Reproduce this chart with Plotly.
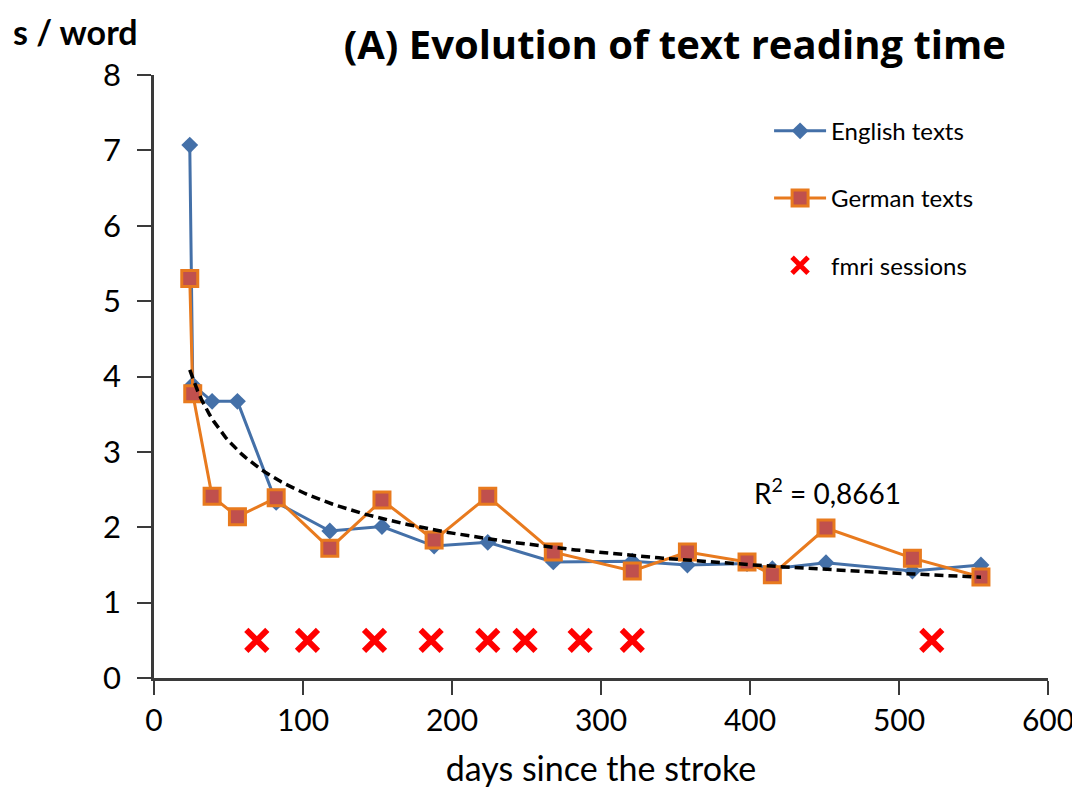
import numpy as np
import plotly.graph_objects as go

days = [24, 26, 39, 56, 82, 118, 153, 188, 224, 268, 321, 358, 398, 415, 451, 509, 555]
english = [7.07, 3.89, 3.67, 3.67, 2.33, 1.95, 2.01, 1.75, 1.80, 1.54, 1.55, 1.50, 1.52, 1.45, 1.53, 1.42, 1.50]
german = [5.30, 3.77, 2.41, 2.14, 2.39, 1.72, 2.36, 1.83, 2.41, 1.67, 1.42, 1.67, 1.54, 1.37, 1.99, 1.59, 1.34]
fmri_days = [69, 103, 148, 186, 224, 249, 286, 321, 522]
fmri_level = [0.5] * len(fmri_days)
r2_text = "R<sup>2</sup> = 0,8661"

# power trendline (as in the spreadsheet), fitted on both series
xs = np.array(days + days, dtype=float)
ys = np.array(english + german, dtype=float)
b, ln_a = np.polyfit(np.log(xs), np.log(ys), 1)
trend_x = np.linspace(min(days), max(days), 200)
trend_y = np.exp(ln_a) * trend_x ** b

FONT = "Lato"
BLUE = "#4470A8"
ORANGE = "#E87A1E"
FILL = "#C0504D"
AX = "#3a3a3a"

fig = go.Figure()
fig.add_trace(go.Scatter(
    x=days, y=english, mode="lines+markers", name="English texts",
    line=dict(color=BLUE, width=3),
    marker=dict(symbol="diamond", size=13, color=BLUE),
    legendgroup="a",
))
fig.add_trace(go.Scatter(
    x=days, y=german, mode="lines+markers", name="German texts",
    line=dict(color=ORANGE, width=3),
    marker=dict(symbol="square", size=16, color=FILL, line=dict(color=ORANGE, width=3)),
    legendgroup="b",
))
fig.add_trace(go.Scatter(
    x=trend_x, y=trend_y, mode="lines", showlegend=False,
    line=dict(color="black", width=3.5, dash="9px,5px"),
))
fig.add_trace(go.Scatter(
    x=fmri_days, y=fmri_level, mode="markers", name="fmri sessions",
    marker=dict(symbol="x-thin", size=21, color="#FF0000", line=dict(color="#FF0000", width=6)),
    legendgroup="c",
))

fig.add_annotation(x=452, y=2.47, xref="x", yref="y", text=r2_text, showarrow=False,
                   font=dict(family=FONT, size=28, color="black"))
fig.add_annotation(x=-0.16, y=1.072, xref="paper", yref="paper", text="<b>s / word</b>",
                   showarrow=False, xanchor="left", yanchor="middle",
                   font=dict(family=FONT, size=34, color="black"))

fig.update_layout(
    width=1072, height=788,
    margin=dict(l=146, r=32, t=67, b=118, autoexpand=False),
    paper_bgcolor="white", plot_bgcolor="white",
    title=dict(text="<b>(A) Evolution of text reading time</b>", x=0.622, xanchor="center",
               y=0.953, yanchor="middle", font=dict(family="Open Sans", size=40, color="black")),
    font=dict(family=FONT, color="black"),
    legend=dict(x=0.688, y=0.944, xanchor="left", yanchor="top", bgcolor="rgba(0,0,0,0)",
                font=dict(family=FONT, size=24, color="black"), tracegroupgap=33,
                itemwidth=52),
    xaxis=dict(range=[0, 600], dtick=100, showgrid=False, zeroline=False, automargin=False,
               showline=True, linecolor=AX, linewidth=2.5,
               ticks="outside", ticklen=14, tickwidth=2, tickcolor=AX,
               tickfont=dict(family=FONT, size=30),
               title=dict(text="days since the stroke", font=dict(family=FONT, size=34), standoff=22)),
    yaxis=dict(range=[0, 8], dtick=1, showgrid=False, zeroline=False, automargin=False,
               showline=True, linecolor=AX, linewidth=2.5,
               ticks="outside", ticklen=14, tickwidth=2, tickcolor=AX,
               ticklabelstandoff=10,
               tickfont=dict(family=FONT, size=31)),
)
fig.write_html("out.html")
